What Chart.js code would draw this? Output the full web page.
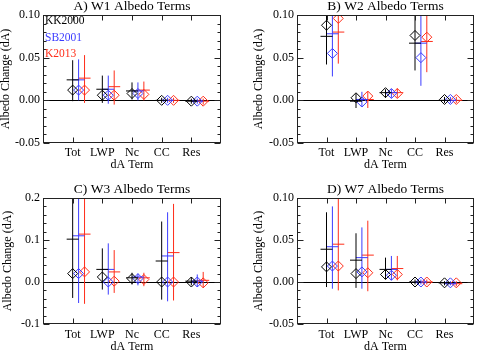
<!DOCTYPE html>
<html>
<head>
<meta charset="utf-8">
<script src="https://cdn.jsdelivr.net/npm/chart.js@4.4.1/dist/chart.umd.min.js"></script>
<style>
  html, body { margin: 0; padding: 0; background: #fff; }
  #wrap { position: relative; width: 481px; height: 351px; overflow: hidden; }
  #wrap canvas { position: absolute; }
</style>
</head>
<body>
<div id="wrap">
  <canvas id="pA" width="240" height="175" style="left:0;top:0"></canvas>
  <canvas id="pB" width="241" height="175" style="left:240px;top:0"></canvas>
  <canvas id="pC" width="240" height="176" style="left:0;top:175px"></canvas>
  <canvas id="pD" width="241" height="176" style="left:240px;top:175px"></canvas>
</div>
<script>
// --- Dados ---
const categories = ['Tot', 'LWP', 'Nc', 'CC', 'Res'];
const seriesNames = ['KK2000', 'SB2001', 'K2013'];

// W1 (cada linha: KK2000, SB2001, K2013)
const w1Diamond = [[0.012, 0.006, 0.008, 0.000, -0.001], [0.012, 0.006, 0.008, 0.000, -0.001], [0.012, 0.006, 0.007, 0.000, -0.001]];
const w1Mean    = [[0.024, 0.013, 0.011, 0.000, -0.001], [0.024, 0.013, 0.011, 0.000, -0.001], [0.026, 0.016, 0.012, 0.000, -0.001]];
const w1Low     = [[-0.001, -0.003, 0.001, -0.003, -0.004], [0.000, -0.004, 0.000, -0.003, -0.004], [-0.003, -0.005, 0.000, -0.003, -0.005]];
const w1High    = [[0.047, 0.029, 0.021, 0.003, 0.002], [0.048, 0.029, 0.021, 0.003, 0.002], [0.053, 0.035, 0.022, 0.003, 0.002]];
const w1Ticks   = [-0.05, 0.00, 0.05, 0.10];

// W2
const w2Diamond = [[0.088, 0.003, 0.009, 0.076, 0.001], [0.055, -0.002, 0.008, 0.050, 0.001], [0.096, 0.005, 0.008, 0.074, 0.001]];
const w2Mean    = [[0.075, -0.001, 0.009, 0.067, 0.000], [0.078, 0.001, 0.009, 0.067, 0.000], [0.080, 0.001, 0.009, 0.069, 0.000]];
const w2Low     = [[0.042, -0.009, 0.003, 0.035, -0.003], [0.028, -0.007, 0.003, 0.017, -0.003], [0.043, -0.009, 0.003, 0.033, -0.003]];
const w2High    = [[0.110, 0.008, 0.013, 0.105, 0.004], [0.120, 0.010, 0.013, 0.115, 0.004], [0.115, 0.010, 0.014, 0.110, 0.004]];
const w2Ticks   = [-0.05, 0.00, 0.05, 0.10];

// W3
const w3Diamond = [[0.020, 0.012, 0.008, 0.000, 0.000], [0.020, 0.000, 0.008, 0.000, 0.000], [0.024, 0.002, 0.006, 0.000, -0.002]];
const w3Mean    = [[0.102, 0.030, 0.010, 0.050, 0.002], [0.110, 0.030, 0.012, 0.062, 0.002], [0.114, 0.024, 0.010, 0.070, 0.004]];
const w3Low     = [[-0.038, -0.018, -0.006, -0.042, -0.008], [-0.050, -0.030, -0.008, -0.046, -0.012], [-0.052, -0.026, -0.010, -0.044, -0.014]];
const w3High    = [[0.230, 0.080, 0.022, 0.144, 0.012], [0.240, 0.092, 0.020, 0.166, 0.018], [0.235, 0.076, 0.022, 0.186, 0.024]];
const w3Ticks   = [-0.1, 0.0, 0.1, 0.2];

// W7
const w7Diamond = [[0.018, 0.010, 0.009, 0.000, -0.001], [0.019, 0.012, 0.008, 0.000, -0.001], [0.019, 0.011, 0.009, 0.000, -0.001]];
const w7Mean    = [[0.039, 0.026, 0.015, 0.000, -0.001], [0.042, 0.029, 0.015, 0.000, -0.002], [0.045, 0.032, 0.016, 0.000, -0.002]];
const w7Low     = [[-0.006, -0.007, 0.003, -0.003, -0.004], [-0.008, -0.008, 0.002, -0.003, -0.004], [-0.010, -0.011, 0.002, -0.003, -0.005]];
const w7High    = [[0.083, 0.058, 0.029, 0.003, 0.001], [0.090, 0.065, 0.031, 0.003, 0.001], [0.105, 0.073, 0.031, 0.003, 0.001]];
const w7Ticks   = [-0.05, 0.00, 0.05, 0.10];

// --- Estilo ---
const FONT = "'Liberation Serif', 'DejaVu Serif', serif";
const SERIES_COLORS = ['#000000', 'rgb(60,60,255)', 'rgb(255,45,25)'];
const SERIES_OFFSETS = [0, 0.2, 0.4]; // deslocamento de cada série dentro da categoria

// Layout de cada painel: canvas (posição na página) e área do gráfico (coordenadas da página)
const PANELS = [
  { id: 'pA', title: 'A) W1 Albedo Terms', data: [w1Diamond, w1Mean, w1Low, w1High], ticks: w1Ticks, digits: 2, legend: true,
    canvas: { l: 0, t: 0, w: 240, h: 175 }, plot: { l: 43, t: 15, r: 221, b: 143 }, yTitleX: 6, tickPad: 4, xTitlePad: 4 },
  { id: 'pB', title: 'B) W2 Albedo Terms', data: [w2Diamond, w2Mean, w2Low, w2High], ticks: w2Ticks, digits: 2, legend: false,
    canvas: { l: 240, t: 0, w: 241, h: 175 }, plot: { l: 297, t: 15, r: 477, b: 143 }, yTitleX: 19, tickPad: 4, xTitlePad: 4 },
  { id: 'pC', title: 'C) W3 Albedo Terms', data: [w3Diamond, w3Mean, w3Low, w3High], ticks: w3Ticks, digits: 1, legend: false,
    canvas: { l: 0, t: 175, w: 240, h: 176 }, plot: { l: 43, t: 198, r: 221, b: 324 }, yTitleX: 8, tickPad: 5, xTitlePad: -1.5 },
  { id: 'pD', title: 'D) W7 Albedo Terms', data: [w7Diamond, w7Mean, w7Low, w7High], ticks: w7Ticks, digits: 2, legend: false,
    canvas: { l: 240, t: 175, w: 241, h: 176 }, plot: { l: 297, t: 198, r: 477, b: 324 }, yTitleX: 19, tickPad: 5, xTitlePad: -1.5 }
];

// --- Plugin: moldura estilo IDL, marcas internas, linha do zero, título e legenda ---
const idlFrame = {
  id: 'idlFrame',
  beforeDatasetsDraw(chart) {
    const { ctx, chartArea: a, scales: { y } } = chart;
    const y0 = Math.round(y.getPixelForValue(0)) + 0.5;
    ctx.save();
    ctx.strokeStyle = '#000';
    ctx.lineWidth = 1;
    ctx.beginPath();
    ctx.moveTo(a.left, y0);
    ctx.lineTo(a.right, y0);
    ctx.stroke();
    ctx.restore();
  },
  afterDraw(chart, args, opts) {
    const { ctx, chartArea: a, scales: { x, y } } = chart;
    ctx.save();
    ctx.strokeStyle = '#222';
    ctx.lineWidth = 1;
    const L = Math.round(a.left) + 0.5, R = Math.round(a.right) - 0.5;
    const T = Math.round(a.top) + 0.5, B = Math.round(a.bottom) - 0.5;
    ctx.strokeRect(L, T, R - L, B - T);

    // marcas do eixo y (5 menores por maior)
    const major = opts.ticks[1] - opts.ticks[0];
    const minor = major / 5;
    const n = Math.round((y.max - y.min) / minor);
    ctx.beginPath();
    for (let i = 0; i <= n; i++) {
      const py = Math.round(y.getPixelForValue(y.min + i * minor)) + 0.5;
      const len = i % 5 === 0 ? 6 : 3;
      ctx.moveTo(L, py); ctx.lineTo(L + len, py);
      ctx.moveTo(R, py); ctx.lineTo(R - len, py);
    }
    // marcas do eixo x nas categorias
    categories.forEach((c, i) => {
      const px = Math.round(x.getPixelForValue(i + 1)) + 0.5;
      ctx.moveTo(px, B); ctx.lineTo(px, B - 5);
      ctx.moveTo(px, T); ctx.lineTo(px, T + 5);
    });
    ctx.stroke();

    // título do painel
    ctx.fillStyle = '#000';
    ctx.font = `13.5px ${FONT}`;
    ctx.textAlign = 'center';
    ctx.textBaseline = 'middle';
    ctx.fillText(opts.title, (a.left + a.right) / 2, a.top - 9);

    // legenda (apenas no painel A)
    if (opts.legend) {
      ctx.font = `11.5px ${FONT}`;
      ctx.textAlign = 'left';
      seriesNames.forEach((name, s) => {
        ctx.fillStyle = SERIES_COLORS[s];
        ctx.fillText(name, a.left + 2, a.top + 6 + s * 16.5);
      });
    }
    ctx.restore();
  }
};

/**
 * Monta os datasets de um painel: linhas de intervalo, barras da média e losangos.
 */
function buildDatasets(diamond, mean, low, high) {
  const sets = [];
  seriesNames.forEach((name, s) => {
    const color = SERIES_COLORS[s];
    const dx = SERIES_OFFSETS[s];
    const rangePts = [];
    const meanPts = [];
    const diamondPts = [];
    categories.forEach((c, i) => {
      const xv = i + 1 + dx;
      rangePts.push({ x: xv, y: low[s][i] }, { x: xv, y: high[s][i] }, { x: xv, y: null });
      meanPts.push({ x: xv, y: mean[s][i] });
      diamondPts.push({ x: xv, y: diamond[s][i] });
    });
    sets.push({ label: name + ' range', data: rangePts, showLine: true, spanGaps: false,
      borderColor: color, borderWidth: 1, pointRadius: 0 });
    sets.push({ label: name + ' mean', data: meanPts, pointStyle: 'line', pointRadius: 6,
      borderColor: color, borderWidth: 1 });
    sets.push({ label: name, data: diamondPts, pointStyle: 'rectRot', pointRadius: 5,
      borderColor: color, backgroundColor: 'rgba(0,0,0,0)', borderWidth: 1 });
  });
  return sets;
}

function createPanel(p) {
  const [diamond, mean, low, high] = p.data;
  const yAxisWidth = p.plot.l - p.canvas.l;
  const xAxisHeight = p.canvas.t + p.canvas.h - p.plot.b;
  const tickFont = { family: FONT, size: 12, lineHeight: 1 };

  new Chart(document.getElementById(p.id), {
    type: 'scatter',
    data: { datasets: buildDatasets(diamond, mean, low, high) },
    options: {
      responsive: false,
      animation: false,
      events: [],
      layout: { padding: { left: 0, top: p.plot.t - p.canvas.t, right: p.canvas.l + p.canvas.w - p.plot.r, bottom: 0 } },
      plugins: {
        legend: { display: false },
        tooltip: { enabled: false },
        idlFrame: { title: p.title, legend: p.legend, ticks: p.ticks }
      },
      scales: {
        x: {
          type: 'linear', min: 0, max: 6,
          grid: { display: false, drawTicks: false },
          border: { display: false },
          afterBuildTicks: scale => { scale.ticks = categories.map((c, i) => ({ value: i + 1 })); },
          afterFit: scale => { scale.height = xAxisHeight; },
          ticks: { color: '#000', font: tickFont, padding: p.tickPad, maxRotation: 0,
            callback: v => categories[v - 1] || '' },
          title: { display: true, text: 'dA Term', color: '#000', font: tickFont, padding: { top: 0, bottom: p.xTitlePad } }
        },
        y: {
          min: p.ticks[0], max: p.ticks[p.ticks.length - 1],
          grid: { display: false, drawTicks: false },
          border: { display: false },
          afterBuildTicks: scale => { scale.ticks = p.ticks.map(v => ({ value: v })); },
          afterFit: scale => { scale.width = yAxisWidth; },
          ticks: { color: '#000', font: tickFont, padding: 3, callback: v => v.toFixed(p.digits) },
          title: { display: true, text: 'Albedo Change (dA)', color: '#000', font: tickFont,
            padding: { top: p.yTitleX - 6, bottom: 0 } }
        }
      }
    },
    plugins: [idlFrame]
  });
}

PANELS.forEach(createPanel);
</script>
</body>
</html>
